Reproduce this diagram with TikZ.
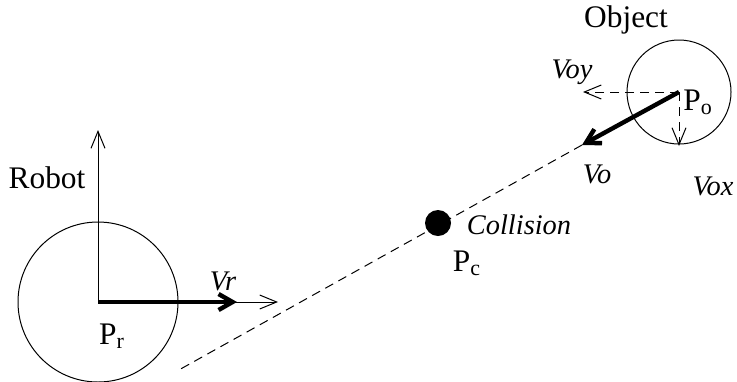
\documentclass[tikz,border=0pt]{standalone}
\usepackage{fontspec}
\setmainfont{Liberation Serif}
\usetikzlibrary{arrows.meta,positioning}
\newcommand{\lblfont}{\fontsize{15.7pt}{18pt}\selectfont}
\newcommand{\vlblfont}{\fontsize{14.2pt}{17pt}\selectfont\itshape}

\begin{document}
\begin{tikzpicture}[
    x=0.5pt, y=-0.5pt,
    >={Straight Barb[length=8.5pt,width=7pt]},
    thin line/.style={line width=0.5pt},
    thick arrow/.style={line width=2.2pt, -{Straight Barb[length=7pt,width=8pt]}},
    dash line/.style={line width=0.5pt, dash pattern=on 4.5pt off 3pt},
    lbl/.style={font=\lblfont, inner sep=0pt},
    vlbl/.style={font=\vlblfont, inner sep=0pt},
    dot/.style={circle, fill, inner sep=0pt, minimum size=13pt}
]
    \useasboundingbox (0,0) rectangle (737,381);

    % robot
    \coordinate (pr) at (98,302);
    \coordinate (yaxis) at (98,130);
    \coordinate (xaxis) at (278,302);
    \coordinate (vrtip) at (237,302);
    \draw[thin line] (pr) circle (40pt);
    \draw[thin line, ->] (pr) -- (yaxis);
    \draw[thin line, ->] (pr) -- (xaxis);
    \draw[thick arrow] (pr) -- (vrtip);
    \node[lbl]  (robot) at (47,178)  {Robot};
    \node[lbl]  (prlbl) at (112,336) {P\textsubscript{r}};
    \node[vlbl] (vr)    at (223,281) {Vr};

    % object
    \coordinate (po) at (679,92);
    \coordinate (votip) at (582,145);
    \coordinate (voytip) at (583,92);
    \coordinate (voxtip) at (679,146);
    \draw[thin line] (po) circle (26pt);
    \draw[dash line, ->] (po) -- (voytip);
    \draw[dash line, ->] (po) -- (voxtip);
    \draw[thick arrow] (po) -- (votip);
    \node[lbl]  (object) at (626,20)  {Object};
    \node[lbl]  (polbl)  at (698,102) {P\textsubscript{o}};
    \node[vlbl] (voy)    at (572,72)  {Voy};
    \node[vlbl] (vo)     at (597,174) {Vo};
    \node[vlbl] (vox)    at (713,186) {Vox};

    % collision
    \coordinate (tail) at (177,371);
    \draw[dash line] (votip) -- (tail);
    \node[dot] (pc) at (438,223) {};
    \node[vlbl] (collision) at (519,225) {Collision};
    \node[lbl]  (pclbl)     at (467,263) {P\textsubscript{c}};
\end{tikzpicture}
\end{document}
